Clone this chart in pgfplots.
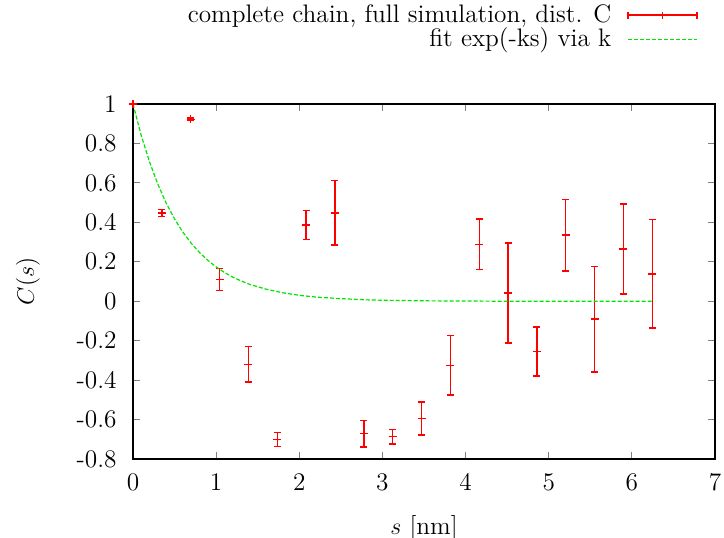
\documentclass[border=0pt]{standalone}
\usepackage{pgfplots}
\pgfplotsset{compat=1.18}
\usepackage{pgfplotstable}
\definecolor{gpgreen}{rgb}{0,0.9,0}
\definecolor{gpred}{rgb}{1,0,0}
\pgfplotstableread{
x y ey
0.000 1.000 0.003
0.347 0.447 0.017
0.694 0.922 0.006
1.041 0.110 0.055
1.388 -0.320 0.090
1.735 -0.702 0.035
2.082 0.386 0.074
2.429 0.448 0.163
2.776 -0.672 0.068
3.123 -0.687 0.036
3.470 -0.595 0.084
3.817 -0.325 0.150
4.164 0.289 0.127
4.511 0.042 0.254
4.858 -0.255 0.125
5.205 0.335 0.182
5.552 -0.091 0.267
5.899 0.264 0.228
6.246 0.139 0.274
}\datatable
\pgfplotstableread{
x y
0.0 1.000
0.1 0.839
0.2 0.705
0.3 0.592
0.4 0.497
0.5 0.417
0.6 0.350
0.7 0.294
0.8 0.247
0.9 0.207
1.0 0.174
1.1 0.146
1.2 0.122
1.3 0.103
1.4 0.086
1.6 0.061
1.8 0.043
2.0 0.030
2.2 0.021
2.5 0.013
2.8 0.007
3.0 0.005
3.5 0.002
4.0 0.001
4.5 0.000
5.0 0.000
5.5 0.000
6.25 0.000
}\fittable
\begin{document}
\fontsize{12.7}{15.2}\selectfont
\begin{tikzpicture}
\useasboundingbox (-66.5bp,-39.5bp) rectangle (295.5bp,229.5bp);
\begin{axis}[
  scale only axis,
  width=291bp, height=177.5bp,
  xmin=0, xmax=7, ymin=-0.8, ymax=1,
  xtick={0,1,...,7},
  ytick={-0.8,-0.6,-0.4,-0.2,0,0.2,0.4,0.6,0.8,1},
  tick align=inside,
  major tick length=3.5bp,
  axis line style={line width=0.6bp},
  tick style={line width=0.5bp},
  /pgf/number format/assume math mode=true,
  yticklabel style={/pgf/number format/fixed, /pgf/number format/precision=1, xshift=-3.8bp},
  xticklabel style={yshift=-2.8bp},
  xlabel={$s$ [nm]},
  ylabel={$C(s)$},
  xlabel style={at={(axis description cs:0.5,-0.134)}, anchor=north},
  ylabel style={at={(axis description cs:-0.145,0.5)}, anchor=south},
  clip=false,
  legend plot pos=right,
  legend cell align=right,
  legend style={draw=none, fill=none, at={(rel axis cs:0.971,1.2817)}, anchor=north east, row sep=1bp, inner sep=0pt,
    nodes={inner sep=0pt},
    /tikz/every odd column/.append style={column sep=8bp}},
]
\addplot[draw=gpred, line width=0.7bp, mark=+, mark size=2bp, only marks, mark options={draw=gpred, line width=0.7bp},
  error bars/.cd, y dir=both, y explicit,
  error bar style={draw=gpred, line width=0.7bp},
  error mark options={rotate=90, mark size=1.75bp, draw=gpred, line width=0.7bp},
  /pgfplots/legend image code/.code={
  \draw[draw=gpred, line width=0.7bp] (0bp,0bp) -- (34.5bp,0bp);
  \draw[draw=gpred, line width=0.7bp] (0bp,-1.75bp) -- (0bp,1.75bp);
  \draw[draw=gpred, line width=0.7bp] (34.5bp,-1.75bp) -- (34.5bp,1.75bp);
  \draw[draw=gpred, line width=0.7bp] (17.25bp,-1.75bp) -- (17.25bp,1.75bp);
  },
  ] table[x=x, y=y, y error=ey] {\datatable};
\addlegendentry{complete chain, full simulation, dist. C}
\addplot[draw=gpgreen, line width=0.6bp, dash pattern=on 2bp off 1bp, no marks,
  legend image code/.code={
  \draw[draw=gpgreen, line width=0.6bp, dash pattern=on 2bp off 1bp] (0bp,0bp) -- (34.5bp,0bp);
  }] table[x=x, y=y] {\fittable};
\addlegendentry{fit exp(-ks) via k}
\end{axis}
\end{tikzpicture}
\end{document}
